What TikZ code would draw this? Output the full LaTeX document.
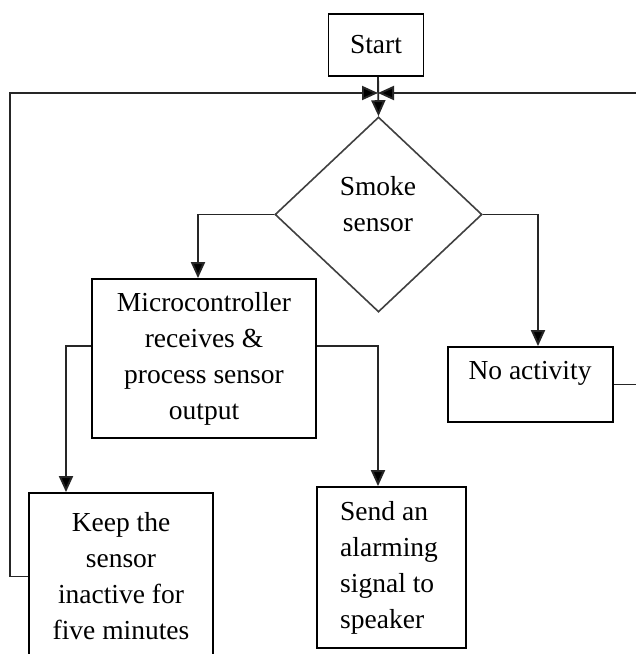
\documentclass[tikz,border=0pt]{standalone}
\usepackage{fontspec}
\setmainfont{Liberation Serif}
\usetikzlibrary{arrows.meta,shapes.geometric}
\begin{document}
\begin{tikzpicture}[x=1pt,y=-1pt,
  font=\fontsize{27.5}{36}\selectfont,
  box/.style={draw=black,line width=1.8pt,inner sep=0pt,align=center},
  conn/.style={draw=black!85,line width=1.9pt},
  arr/.style={conn,-{Triangle[length=16pt,width=14pt,fill=black]}},
  lbl/.style={inner sep=0pt,align=center}]
\useasboundingbox (0,0) rectangle (636,654);
\clip (0,0) rectangle (636,654);
\fill[white] (0,0) rectangle (636,654);
% nodes
\node[box,minimum width=95pt,minimum height=62pt] (start) at (376,45) {Start};
\node[diamond,draw=black!75,line width=1.6pt,inner sep=0pt,minimum width=207pt,minimum height=195pt] (dia) at (378.5,214.5) {};
\node[lbl] (diaT) at (378,204) {Smoke\\sensor};
\node[box,minimum width=224pt,minimum height=159pt] (micro) at (204,358.5) {Microcontroller\\receives \&\\process sensor\\output};
\node[box,minimum width=184pt,minimum height=167pt] (keep) at (121,576.5) {Keep the\\sensor\\inactive for\\five minutes};
\node[box,minimum width=149pt,minimum height=161pt] (send) at (391.5,567.5) {};
\node[lbl,align=left,anchor=west] (sendT) at (340,568) {Send an\\alarming\\signal to\\speaker};
\node[box,minimum width=165pt,minimum height=75pt] (noact) at (530.5,384.5) {};
\node[lbl] (noactT) at (530,373) {No activity};
\coordinate (junc) at (378,93);
\coordinate (lc) at (10,93);
\coordinate (rc) at (645,93);
% connectors
\draw[arr] (start.south -| junc) -- (dia.north);
\draw[arr] (keep.west) -| (lc) -- (junc);
\draw[arr] (noact.east) -| (rc) -- (junc);
\draw[arr] (dia.west) -| ([xshift=-6pt]micro.north);
\draw[arr] (dia.east) -| ([xshift=7.5pt]noact.north);
\draw[arr] ([yshift=12.5pt]micro.west) -| ([xshift=-55pt]keep.north);
\draw[arr] ([yshift=12.5pt]micro.east) -| ([xshift=-13.5pt]send.north);
\end{tikzpicture}
\end{document}
